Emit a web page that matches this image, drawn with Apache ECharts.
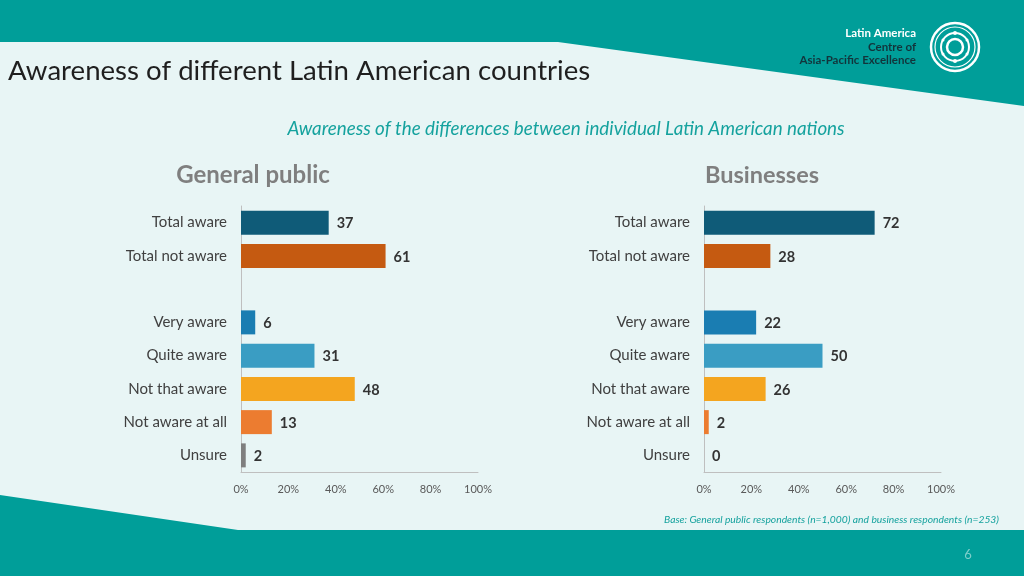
<!DOCTYPE html>
<html><head><meta charset="utf-8">
<script src="https://cdn.jsdelivr.net/npm/echarts@6/dist/echarts.min.js"></script>
<style>html,body{margin:0;padding:0;background:#E8F5F5;}#c{width:1024px;height:576px;}</style>
</head><body><div id="c"></div>
<script>
const categories = ['Total aware','Total not aware','','Very aware','Quite aware','Not that aware','Not aware at all','Unsure'];
const publicValues = [37, 61, null, 6, 31, 48, 13, 2];
const businessValues = [72, 28, null, 22, 50, 26, 2, 0];
const barColors = ['#0F5B78','#C55A11','#000','#1A7DB2','#3A9DC3','#F4A51F','#EC7C30','#7F7F7F'];
const xTicks = [0, 20, 40, 60, 80, 100];

const FONT = 'Lato, "Open Sans", sans-serif';
const chart = echarts.init(document.getElementById('c'), null, {renderer:'canvas'});

function mkData(vals){
  return vals.map((v,i)=> v===null ? null : {value:v, itemStyle:{color:barColors[i]}});
}
function xAxis(idx){
  return {type:'value', gridIndex:idx, min:0, max:100, interval:20,
    axisLine:{show:true, lineStyle:{color:'#BFBFBF'}}, axisTick:{show:false}, splitLine:{show:false},
    axisLabel:{formatter:'{value}%', color:'#595959', fontSize:11, fontFamily:FONT, margin:12}};
}
function yAxis(idx){
  return {type:'category', gridIndex:idx, data:categories, inverse:true,
    axisLine:{show:true, lineStyle:{color:'#BFBFBF'}}, axisTick:{show:false},
    axisLabel:{color:'#404040', fontSize:15, fontFamily:FONT, margin:14}};
}
function series(idx, vals){
  return {type:'bar', xAxisIndex:idx, yAxisIndex:idx, data:mkData(vals), barWidth:24,
    label:{show:true, position:'right', distance:8, color:'#333', fontWeight:'bold', fontSize:14.5, fontFamily:FONT, offset:[0,1]}};
}

chart.setOption({
  animation:false,
  backgroundColor:'#E8F5F5',
  grid:[{left:241, right:546, top:206, height:266},{left:704, right:83, top:206, height:266}],
  xAxis:[xAxis(0), xAxis(1)],
  yAxis:[yAxis(0), yAxis(1)],
  series:[series(0, publicValues), series(1, businessValues)],
  graphic:[
    {type:'polygon', silent:true, z:-10, shape:{points:[[0,0],[1024,0],[1024,106],[558,42],[0,42]]}, style:{fill:'#009E99'}},
    {type:'polygon', silent:true, z:-10, shape:{points:[[0,495],[238,530],[1024,530],[1024,576],[0,576]]}, style:{fill:'#009E99'}},
    {type:'text', x:8, y:71, style:{text:'Awareness of different Latin American countries', fill:'#1F1F1F', font:'27.6px '+FONT, textVerticalAlign:'middle'}},
    {type:'text', x:566, y:129, style:{text:'Awareness of the differences between individual Latin American nations', fill:'#15A29E', font:'italic 18.8px '+FONT, textAlign:'center', textVerticalAlign:'middle'}},
    {type:'text', x:253, y:175, style:{text:'General public', fill:'#7F7F7F', font:'bold 24px '+FONT, textAlign:'center', textVerticalAlign:'middle'}},
    {type:'text', x:762, y:175, style:{text:'Businesses', fill:'#7F7F7F', font:'bold 23.5px '+FONT, textAlign:'center', textVerticalAlign:'middle'}},
    {type:'text', x:999, y:520, style:{text:'Base: General public respondents (n=1,000) and business respondents (n=253)', fill:'#15A29E', font:'italic 10.3px '+FONT, textAlign:'right', textVerticalAlign:'middle'}},
    {type:'text', x:968, y:555, style:{text:'6', fill:'#7FCFCB', font:'13px '+FONT, textAlign:'center', textVerticalAlign:'middle'}},
    {type:'text', x:916, y:33, style:{text:'Latin America', fill:'#FFFFFF', font:'bold 11.5px '+FONT, textAlign:'right', textVerticalAlign:'middle'}},
    {type:'text', x:916, y:47, style:{text:'Centre of', fill:'#12343B', font:'bold 11.5px '+FONT, textAlign:'right', textVerticalAlign:'middle'}},
    {type:'text', x:916, y:60, style:{text:'Asia-Pacific Excellence', fill:'#12343B', font:'bold 11.5px '+FONT, textAlign:'right', textVerticalAlign:'middle'}},
    {type:'circle', shape:{cx:955, cy:47, r:24}, style:{fill:'none', stroke:'#FFFFFF', lineWidth:2.5}},
    {type:'circle', shape:{cx:955, cy:47, r:20}, style:{fill:'none', stroke:'#FFFFFF', lineWidth:1.2}},
    {type:'circle', shape:{cx:955, cy:47, r:8}, style:{fill:'none', stroke:'#FFFFFF', lineWidth:2.5}},
    {type:'ring', shape:{cx:955, cy:47, r:15, r0:13}, style:{fill:'#FFFFFF'}},
    {type:'circle', shape:{cx:955, cy:33, r:2}, style:{fill:'#FFFFFF'}},
    {type:'circle', shape:{cx:955, cy:61, r:2}, style:{fill:'#FFFFFF'}},
    {type:'circle', shape:{cx:943, cy:40, r:1.5}, style:{fill:'#FFFFFF'}},
    {type:'circle', shape:{cx:967, cy:54, r:1.5}, style:{fill:'#FFFFFF'}},
    {type:'circle', shape:{cx:967, cy:40, r:1.5}, style:{fill:'#FFFFFF'}},
    {type:'circle', shape:{cx:943, cy:54, r:1.5}, style:{fill:'#FFFFFF'}}
  ]
});
</script></body></html>
